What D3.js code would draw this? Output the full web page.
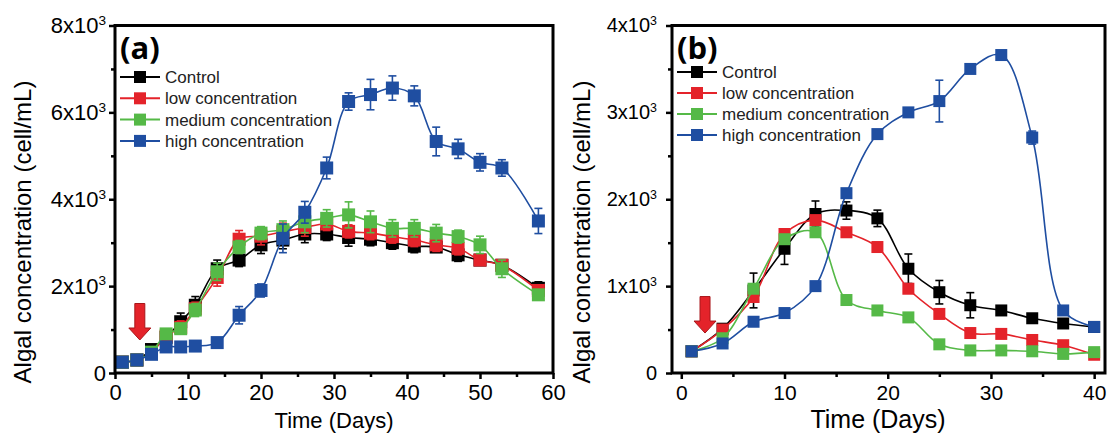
<!DOCTYPE html>
<html>
<head>
<meta charset="utf-8">
<script src="https://cdn.jsdelivr.net/npm/d3@7"></script>
<style>
  body { margin: 0; background: #fff; }
  svg { font-family: "Liberation Sans", Arial, sans-serif; }
</style>
</head>
<body>
<svg id="chart" width="1110" height="434"></svg>
<script>
// panel (a) data
let daysA = [1, 3, 5, 7, 9, 11, 14, 17, 20, 23, 26, 29, 32, 35, 38, 41, 44, 47, 50, 53, 58];
let controlA = [250, 300, 540, 820, 1180, 1560, 2400, 2600, 2950, 3060, 3200, 3200, 3120, 3080, 3000, 2920, 2900, 2720, 2600, 2480, 1950];
let lowA = [250, 300, 460, 850, 1050, 1480, 2200, 3080, 3150, 3250, 3350, 3430, 3260, 3220, 3140, 3060, 2950, 2870, 2600, 2480, 1900];
let mediumA = [250, 300, 480, 900, 1020, 1450, 2330, 2900, 3220, 3300, 3480, 3560, 3640, 3480, 3330, 3330, 3220, 3140, 2950, 2400, 1800];
let highA = [250, 300, 430, 600, 600, 620, 700, 1330, 1900, 3100, 3700, 4720, 6250, 6410, 6560, 6380, 5330, 5160, 4850, 4720, 3500];
let controlAErr = [40, 40, 100, 120, 200, 200, 200, 150, 200, 200, 200, 150, 200, 150, 150, 150, 120, 150, 100, 100, 150];
let lowAErr = [40, 40, 80, 100, 150, 150, 200, 200, 200, 200, 200, 150, 150, 150, 150, 150, 150, 150, 100, 100, 100];
let mediumAErr = [40, 40, 80, 100, 120, 150, 200, 150, 150, 200, 250, 200, 300, 250, 200, 200, 200, 150, 200, 200, 100];
let highAErr = [40, 40, 60, 60, 60, 60, 100, 200, 150, 330, 250, 250, 200, 350, 280, 230, 330, 220, 200, 190, 290];

// panel (b) data
let daysB = [1, 4, 7, 10, 13, 16, 19, 22, 25, 28, 31, 34, 37, 40];
let controlB = [250, 510, 950, 1430, 1830, 1870, 1780, 1200, 930, 780, 720, 630, 570, 530];
let lowB = [250, 500, 875, 1600, 1760, 1620, 1450, 970, 680, 460, 450, 380, 320, 210];
let mediumB = [250, 400, 970, 1540, 1620, 840, 720, 640, 330, 260, 260, 250, 220, 240];
let highB = [250, 340, 590, 690, 1000, 2070, 2750, 3000, 3130, 3500, 3660, 2710, 720, 530];
let controlBErr = [0, 40, 200, 180, 150, 100, 95, 170, 135, 145, 0, 0, 0, 0];
let lowBErr = [0, 50, 0, 0, 0, 0, 0, 0, 0, 0, 0, 0, 0, 0];
let mediumBErr = [0, 0, 0, 0, 0, 0, 0, 0, 0, 0, 0, 0, 0, 0];
let highBErr = [0, 0, 0, 0, 0, 50, 0, 0, 240, 0, 0, 75, 0, 0];

let seriesNames = ["Control", "low concentration", "medium concentration", "high concentration"];
let seriesColors = ["#000000", "#e4232a", "#55b947", "#1f4ea1"];

// arrow: [day, top value, tip value]
let arrowA = [3.4, 1600, 760];
let arrowB = [2.3, 880, 460];

let svg = d3.select("#chart");

function drawPanel(opt) {
  let x = d3.scaleLinear().domain(opt.xDomain).range([opt.left, opt.right]);
  let y = d3.scaleLinear().domain(opt.yDomain).range([opt.bottom, opt.top]);
  let g = svg.append("g");

  // minor + major ticks
  let xMinor = g.append("g").attr("transform", "translate(0," + opt.bottom + ")")
    .call(d3.axisBottom(x).tickValues(opt.xMinor).tickSize(4).tickFormat(""));
  let yMinor = g.append("g").attr("transform", "translate(" + opt.left + ",0)")
    .call(d3.axisLeft(y).tickValues(opt.yMinor).tickSize(4).tickFormat(""));

  let xAxis = g.append("g").attr("transform", "translate(0," + opt.bottom + ")")
    .call(d3.axisBottom(x).tickValues(opt.xTicks).tickSize(6).tickPadding(opt.xPad).tickFormat(d3.format("d")));
  let yAxis = g.append("g").attr("transform", "translate(" + opt.left + ",0)")
    .call(d3.axisLeft(y).tickValues(opt.yTicks).tickSize(6).tickPadding(opt.yPad));

  [xMinor, yMinor, xAxis, yAxis].forEach(function(a) {
    a.select(".domain").remove();
    a.selectAll(".tick line").attr("stroke", "#000").attr("stroke-width", 2.5);
  });

  xAxis.selectAll(".tick text")
    .attr("fill", "#000")
    .style("font-size", opt.xTickFont + "px")
    .style("font-family", "Liberation Sans, Arial, sans-serif");

  yAxis.selectAll(".tick text")
    .attr("fill", "#000")
    .style("font-size", opt.yTickFont + "px")
    .style("font-family", "Liberation Sans, Arial, sans-serif")
    .each(function(d) {
      let t = d3.select(this);
      t.text(null);
      if (d === 0) {
        t.text("0");
      } else {
        t.append("tspan").text((d / 1000) + "x10");
        t.append("tspan").attr("dy", "-0.6em").style("font-size", "0.62em").text("3");
      }
    });

  // series
  let line = d3.line()
    .x(function(d) { return x(d[0]); })
    .y(function(d) { return y(d[1]); })
    .curve(d3.curveCatmullRom.alpha(0.5));

  opt.series.forEach(function(vals, i) {
    let pts = opt.days.map(function(d, j) { return [d, vals[j], opt.errors[i][j]]; });
    let color = seriesColors[i];
    let sg = g.append("g");

    sg.append("path")
      .datum(pts)
      .attr("fill", "none")
      .attr("stroke", color)
      .attr("stroke-width", 1.6)
      .attr("d", line);

    let eb = sg.selectAll("g.err").data(pts.filter(function(p) { return p[2] > 0; }))
      .enter().append("g").attr("class", "err")
      .attr("stroke", color).attr("stroke-width", 1.6);
    eb.append("line")
      .attr("x1", function(p) { return x(p[0]); })
      .attr("x2", function(p) { return x(p[0]); })
      .attr("y1", function(p) { return y(p[1] - p[2]); })
      .attr("y2", function(p) { return y(p[1] + p[2]); });
    eb.append("line")
      .attr("x1", function(p) { return x(p[0]) - 4; })
      .attr("x2", function(p) { return x(p[0]) + 4; })
      .attr("y1", function(p) { return y(p[1] + p[2]); })
      .attr("y2", function(p) { return y(p[1] + p[2]); });
    eb.append("line")
      .attr("x1", function(p) { return x(p[0]) - 4; })
      .attr("x2", function(p) { return x(p[0]) + 4; })
      .attr("y1", function(p) { return y(p[1] - p[2]); })
      .attr("y2", function(p) { return y(p[1] - p[2]); });

    let s = opt.markerSize;
    sg.selectAll("rect.mk").data(pts)
      .enter().append("rect").attr("class", "mk")
      .attr("x", function(p) { return x(p[0]) - s / 2; })
      .attr("y", function(p) { return y(p[1]) - s / 2; })
      .attr("width", s)
      .attr("height", s)
      .attr("fill", color);
  });

  // red arrow
  let ax = x(opt.arrow[0]), aTop = y(opt.arrow[1]), aTip = y(opt.arrow[2]);
  g.append("path")
    .attr("d", "M" + (ax - 5) + "," + aTop + "L" + (ax + 5) + "," + aTop +
      "L" + (ax + 5) + "," + (aTip - 12) + "L" + (ax + 11) + "," + (aTip - 12) +
      "L" + ax + "," + aTip + "L" + (ax - 11) + "," + (aTip - 12) +
      "L" + (ax - 5) + "," + (aTip - 12) + "Z")
    .attr("fill", "#e4232a")
    .attr("stroke", "#a8161a")
    .attr("stroke-width", 1);

  // frame
  g.append("rect")
    .attr("x", opt.left).attr("y", opt.top)
    .attr("width", opt.right - opt.left).attr("height", opt.bottom - opt.top)
    .attr("fill", "none").attr("stroke", "#000").attr("stroke-width", 3);

  // legend
  let lg = g.append("g").attr("transform", "translate(" + opt.legendX + "," + opt.legendY + ")");
  seriesNames.forEach(function(name, i) {
    let row = lg.append("g").attr("transform", "translate(0," + (i * opt.legendStep) + ")");
    row.append("line").attr("x1", 0).attr("x2", 40).attr("y1", 0).attr("y2", 0)
      .attr("stroke", seriesColors[i]).attr("stroke-width", 2);
    row.append("rect").attr("x", 14).attr("y", -6).attr("width", 12).attr("height", 12)
      .attr("fill", seriesColors[i]);
    row.append("text").attr("x", 45).attr("y", 0).attr("dy", "0.35em")
      .style("font-size", "17px").attr("fill", "#222").text(name);
  });

  // panel label
  g.append("text")
    .attr("x", opt.left + 5).attr("y", opt.top + 33)
    .style("font-family", "Open Sans, DejaVu Sans, sans-serif")
    .style("font-weight", "bold").style("font-size", "31px")
    .text(opt.label);

  // axis titles
  g.append("text")
    .attr("text-anchor", "middle")
    .attr("transform", "translate(" + opt.yTitleX + ",232) rotate(-90)")
    .style("font-size", "24px")
    .text("Algal concentration (cell/mL)");
  g.append("text")
    .attr("text-anchor", "middle")
    .attr("x", opt.xTitleX).attr("y", 428)
    .style("font-size", opt.xTitleFont + "px")
    .text("Time (Days)");
}

drawPanel({
  left: 115, right: 553, top: 25.5, bottom: 373,
  xDomain: [0, 60], yDomain: [0, 8000],
  xTicks: [0, 10, 20, 30, 40, 50, 60], xMinor: [5, 15, 25, 35, 45, 55],
  yTicks: [0, 2000, 4000, 6000, 8000], yMinor: [1000, 3000, 5000, 7000],
  xPad: 5, yPad: 3, xTickFont: 22, yTickFont: 22,
  days: daysA, series: [controlA, lowA, mediumA, highA],
  errors: [controlAErr, lowAErr, mediumAErr, highAErr],
  markerSize: 13, arrow: arrowA,
  legendX: 120, legendY: 77, legendStep: 21.3,
  label: "(a)", yTitleX: 31, xTitleX: 334, xTitleFont: 22
});

drawPanel({
  left: 672, right: 1105, top: 25.5, bottom: 373,
  xDomain: [-0.9, 41.05], yDomain: [0, 4000],
  xTicks: [0, 10, 20, 30, 40], xMinor: [5, 15, 25, 35],
  yTicks: [0, 1000, 2000, 3000, 4000], yMinor: [500, 1500, 2500, 3500],
  xPad: 6, yPad: 9, xTickFont: 21, yTickFont: 20,
  days: daysB, series: [controlB, lowB, mediumB, highB],
  errors: [controlBErr, lowBErr, mediumBErr, highBErr],
  markerSize: 12, arrow: arrowB,
  legendX: 677, legendY: 72, legendStep: 21,
  label: "(b)", yTitleX: 590, xTitleX: 878, xTitleFont: 25
});
</script>
</body>
</html>
